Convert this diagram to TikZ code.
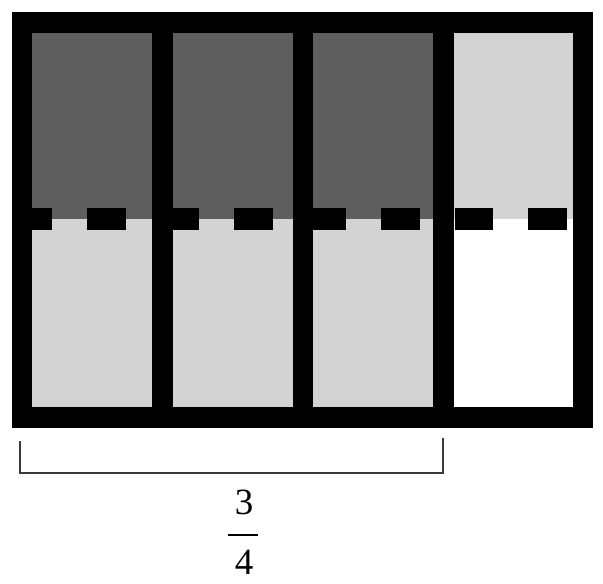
\documentclass[tikz,border=0pt]{standalone}
\usepackage{fontspec}
\setmainfont{Liberation Serif}
\definecolor{darkfill}{HTML}{5E5E5E}
\definecolor{lightfill}{HTML}{D3D3D3}
\definecolor{bracketcol}{HTML}{3A3A3A}
\tikzset{
  border/.style={draw=black, line width=20.5pt},
  dashline/.style={draw=black, line width=22pt, dash pattern=on 38.5pt off 35pt},
  bracketline/.style={draw=bracketcol, line width=2pt},
  digit/.style={inner sep=0pt, font=\fontsize{37}{37}\selectfont}
}
\begin{document}
\begin{tikzpicture}[x=1pt, y=-1pt]
\useasboundingbox (0,0) rectangle (603,584);
% fills
\fill[darkfill] (22,22.5) rectangle (443,219);
\fill[lightfill] (22,219) rectangle (443,417.5);
\fill[lightfill] (443,22.5) rectangle (583,219);
% dashed midline
\draw[dashline] (13.5,219) -- (593,219);
% borders
\draw[border] (22,22.5) rectangle (583,417.5);
\draw[border] (162.5,22.5) -- (162.5,417.5);
\draw[border] (303,22.5) -- (303,417.5);
\draw[border] (443.5,22.5) -- (443.5,417.5);
% bracket
\coordinate (bl) at (20,441);
\coordinate (blc) at (20,473);
\coordinate (brc) at (443,473);
\coordinate (br) at (443,438);
\draw[bracketline] (bl) -- (blc) -- (brc) -- (br);
% fraction
\node[digit] (num) at (244,502.5) {3};
\node[digit] (den) at (244,562) {4};
\coordinate (barl) at (228,535);
\coordinate (barr) at (258,535);
\draw[line width=2.5pt] (barl) -- (barr);
\end{tikzpicture}
\end{document}
